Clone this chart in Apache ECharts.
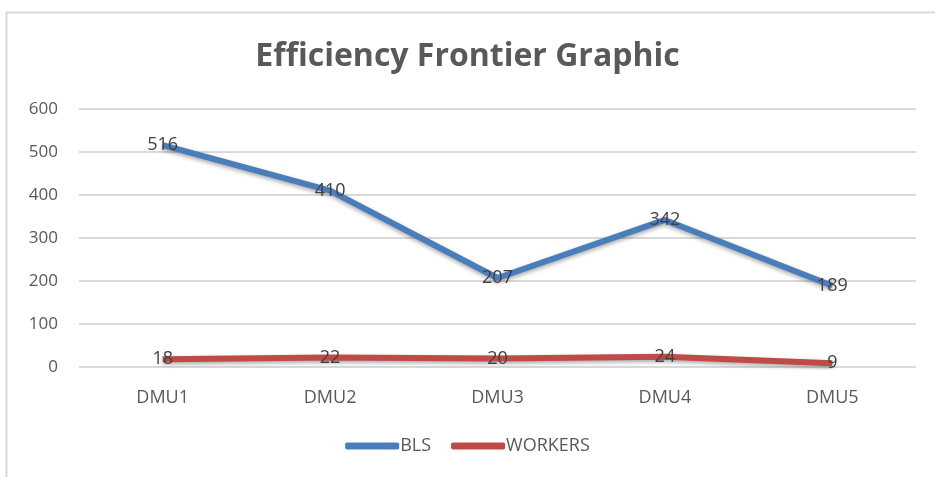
<!DOCTYPE html>
<html>
<head>
<meta charset="utf-8">
<script src="https://cdn.jsdelivr.net/npm/echarts@6/dist/echarts.min.js"></script>
<style>
  html, body { margin: 0; padding: 0; background: #fff; }
  #main { width: 935px; height: 477px; }
</style>
</head>
<body>
<div id="main"></div>
<script>
var categories = ['DMU1', 'DMU2', 'DMU3', 'DMU4', 'DMU5'];
var blsValues = [516, 410, 207, 342, 189];
var workersValues = [18, 22, 20, 24, 9];
var yTicks = [0, 100, 200, 300, 400, 500, 600];
var blsColor = '#4a7ebb';
var workersColor = '#be4b48';

var chart = echarts.init(document.getElementById('main'));
var font = '"Open Sans", "Liberation Sans", sans-serif';

function lineSeries(name, data, color) {
    return {
        name: name,
        type: 'line',
        data: data,
        symbol: 'circle',
        symbolSize: 2,
        showSymbol: true,
        lineStyle: {
            width: 6,
            color: color,
            shadowColor: 'rgba(0,0,0,0.35)',
            shadowBlur: 4,
            shadowOffsetY: 2
        },
        itemStyle: { color: 'rgba(0,0,0,0)', borderWidth: 0 },
        label: {
            show: true,
            position: 'inside',
            color: '#404040',
            fontSize: 18,
            fontFamily: font
        },
        labelLayout: { hideOverlap: false }
    };
}

var option = {
    backgroundColor: '#fff',
    animation: false,
    // frame of the chart area
    graphic: [{
        type: 'rect',
        shape: { x: 6.5, y: 12.5, width: 940, height: 480 },
        style: { fill: 'none', stroke: '#d9d9d9', lineWidth: 2 },
        silent: true
    }],
    title: {
        text: 'Efficiency Frontier Graphic',
        left: 'center',
        top: 36,
        textStyle: {
            color: '#595959',
            fontSize: 32,
            fontWeight: 'bold',
            fontFamily: font
        }
    },
    legend: {
        bottom: 17,
        left: 'center',
        itemWidth: 54,
        itemHeight: 7,
        itemGap: 20,
        icon: 'roundRect',
        data: [
            { name: 'BLS', itemStyle: { color: blsColor } },
            { name: 'WORKERS', itemStyle: { color: workersColor } }
        ],
        textStyle: { color: '#595959', fontSize: 18, fontFamily: font, padding: [0, 0, 0, -4] }
    },
    grid: { left: 79, right: 19, top: 109, bottom: 110 },
    xAxis: {
        type: 'category',
        data: categories,
        boundaryGap: true,
        axisLine: { show: false },
        axisTick: { show: false },
        axisLabel: { color: '#595959', fontSize: 18, fontFamily: font, margin: 22 }
    },
    yAxis: {
        type: 'value',
        min: yTicks[0],
        max: yTicks[yTicks.length - 1],
        interval: 100,
        axisLine: { show: false },
        axisTick: { show: false },
        axisLabel: { color: '#595959', fontSize: 17, fontFamily: font, margin: 21 },
        splitLine: { lineStyle: { color: '#d9d9d9', width: 2 } }
    },
    series: [
        lineSeries('BLS', blsValues, blsColor),
        lineSeries('WORKERS', workersValues, workersColor)
    ]
};
chart.setOption(option);
</script>
</body>
</html>
